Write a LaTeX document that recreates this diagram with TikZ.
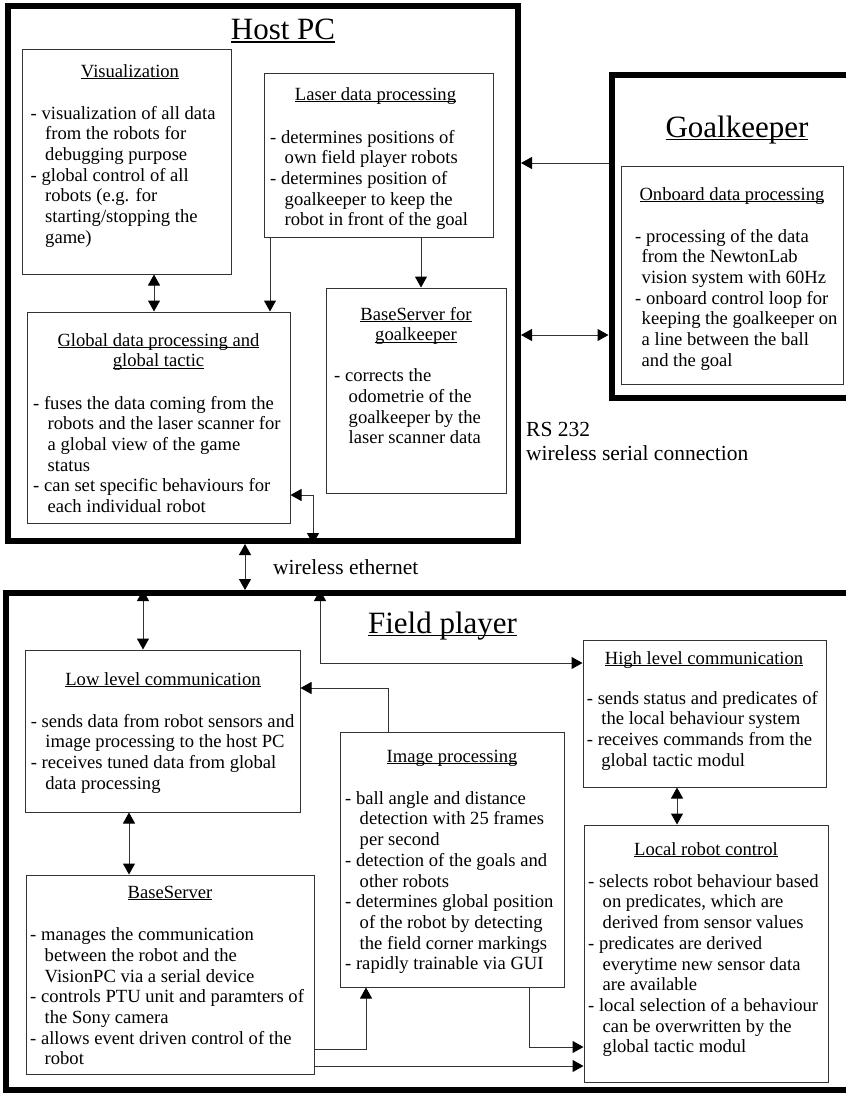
\documentclass[tikz,border=0pt]{standalone}
\usepackage{fontspec}
\setmainfont{Liberation Serif}
\usetikzlibrary{arrows.meta}
\newcommand{\bodysize}{\fontsize{18.6pt}{20.7pt}\selectfont}
\newcommand{\headsize}{\fontsize{31pt}{36pt}\selectfont}
\newcommand{\labelsize}{\fontsize{21.5pt}{24pt}\selectfont}
\newcommand{\ind}{\hspace*{14.5pt}}
\newcommand{\sind}{\hspace*{6.5pt}}
\newcommand{\ulined}[1]{\setbox0\hbox{#1}\rlap{\rule[-0.1em]{\wd0}{0.05em}}\box0}
\begin{document}
\begin{tikzpicture}[
  x=1pt, y=-1pt,
  frame/.style={draw, line width=6pt, inner sep=0pt},
  box/.style={draw=black!80, line width=1pt, inner sep=0pt},
  head/.style={font=\headsize, anchor=base},
  label/.style={font=\labelsize, anchor=base west, inner sep=0pt},
  title/.style={font=\bodysize, anchor=base},
  title2/.style={font=\bodysize, anchor=north, align=center, inner sep=0pt},
  body/.style={font=\bodysize, anchor=north west, align=left, inner sep=0pt},
  arr/.style={draw=black!80, line width=1pt, -{Triangle[length=11pt,width=12pt,color=black]}},
  dbl/.style={draw=black!80, line width=1pt, {Triangle[length=11pt,width=12pt,color=black]}-{Triangle[length=11pt,width=12pt,color=black]}}
]
\useasboundingbox (0,0) rectangle (846,1095);
\clip (0,0) rectangle (846,1095);

% outer frames
\node[frame, minimum width=510.5pt, minimum height=534.7pt] (host) at (262.75,273.65) {};
\node[frame, minimum width=268.5pt, minimum height=323pt] (gk) at (745.75,236.5) {};
\node[frame, minimum width=893.7pt, minimum height=497pt] (field) at (453.15,841.5) {};
\node[head] (hostt) at (283,39.5) {\ulined{Host PC}};
\node[head] (gkt) at (737,137.3) {\ulined{Goalkeeper}};
\node[head] (fieldt) at (442.5,633.3) {\ulined{Field player}};

% host pc
\node[box, minimum width=209pt, minimum height=225pt] (vis) at (126.5,161.5) {};
\node[title] (vist) at (130,77.5) {\ulined{Visualization}};
\node[body] (visb) at (30.5,104.5) {\strut- visualization of all data\\ \ind from the robots for\\ \ind debugging purpose\\ - global control of all\\ \ind robots (e.g. for\\ \ind starting/stopping the\\ \ind game)};

\node[box, minimum width=229pt, minimum height=164pt] (laser) at (378.5,155) {};
\node[title] (lasert) at (375.5,100.5) {\ulined{Laser data processing}};
\node[body] (laserb) at (270,128.5) {\strut- determines positions of\\ \ind own field player robots\\ - determines position of\\ \ind goalkeeper to keep the\\ \ind robot in front of the goal};

\node[box, minimum width=263pt, minimum height=211pt] (glob) at (158.5,417.5) {};
\node[title2] (globt) at (158.5,331.5) {\strut\ulined{Global data processing and}\\ \ulined{global tactic}};
\node[body] (globb) at (33,394.5) {\strut- fuses the data coming from the\\ \ind robots and the laser scanner for\\ \ind a global view of the game\\ \ind status\\ - can set specific behaviours for\\ \ind each individual robot};

\node[box, minimum width=180pt, minimum height=205pt] (bsgk) at (416,390.5) {};
\node[title2] (bsgkt) at (416,305.5) {\strut\ulined{BaseServer for}\\ \ulined{goalkeeper}};
\node[body] (bsgkb) at (334,367) {\strut- corrects the\\ \ind odometrie of the\\ \ind goalkeeper by the\\ \ind laser scanner data};

% goalkeeper
\node[box, minimum width=222pt, minimum height=218pt] (onb) at (732,275) {};
\node[title] (onbt) at (732,200.5) {\ulined{Onboard data processing}};
\node[body] (onbb) at (635,227.5) {\strut- processing of the data\\ \sind from the NewtonLab\\ \sind vision system with 60Hz\\ - onboard control loop for\\ \sind keeping the goalkeeper on\\ \sind a line between the ball\\ \sind and the goal};

\node[label] (rs) at (526,436) {RS 232};
\node[label] (rsw) at (526,460) {wireless serial connection};
\node[label] (wle) at (273,574) {wireless ethernet};

% field player
\node[box, minimum width=275pt, minimum height=162pt] (low) at (162.5,731) {};
\node[title] (lowt) at (163,685.5) {\ulined{Low level communication}};
\node[body] (lowb) at (30.7,712.5) {\strut- sends data from robot sensors and\\ \ind image processing to the host PC\\ - receives tuned data from global\\ \ind data processing};

\node[box, minimum width=243pt, minimum height=147pt] (high) at (704.5,713.5) {};
\node[title] (hight) at (704,664) {\ulined{High level communication}};
\node[body] (highb) at (586.7,689.5) {\strut- sends status and predicates of\\ \ind the local behaviour system\\ - receives commands from the\\ \ind global tactic modul};

\node[box, minimum width=224pt, minimum height=255pt] (img) at (452,859.5) {};
\node[title] (imgt) at (452,762) {\ulined{Image processing}};
\node[body] (imgb) at (345,789.5) {\strut- ball angle and distance\\ \ind detection with 25 frames\\ \ind per second\\ - detection of the goals and\\ \ind other robots\\ - determines global position\\ \ind of the robot by detecting\\ \ind the field corner markings\\ - rapidly trainable via GUI};

\node[box, minimum width=244pt, minimum height=257pt] (local) at (706,953.5) {};
\node[title] (localt) at (706,855.5) {\ulined{Local robot control}};
\node[body] (localb) at (588,872.5) {\strut- selects robot behaviour based\\ \ind on predicates, which are\\ \ind derived from sensor values\\ - predicates are derived\\ \ind everytime new sensor data\\ \ind are available\\ - local selection of a behaviour\\ \ind can be overwritten by the\\ \ind global tactic modul};

\node[box, minimum width=288pt, minimum height=199pt] (base) at (170,974.5) {};
\node[title] (baset) at (170,898.5) {\ulined{BaseServer}};
\node[body] (baseb) at (30,926) {\strut- manages the communication\\ \ind between the robot and the\\ \ind VisionPC via a serial device\\ - controls PTU unit and paramters of\\ \ind the Sony camera\\ - allows event driven control of the\\ \ind robot};

% connectors
\coordinate (xvg) at (154,0);
\coordinate (xlg) at (270,0);
\coordinate (xlb) at (421,0);
\coordinate (ygk1) at (0,163);
\coordinate (ygk2) at (0,335);
\coordinate (cgh) at (313,495);
\coordinate (xwl) at (245,0);
\coordinate (xfl) at (143,0);
\coordinate (cfh) at (320,663);
\coordinate (cil) at (388,688);
\coordinate (xlo) at (129,0);
\coordinate (xhl) at (677,0);
\coordinate (cbi) at (366,1049);
\coordinate (ybl) at (0,1066);
\coordinate (cic) at (529,1047);

\draw[dbl] (vis.south -| xvg) -- (glob.north -| xvg);
\draw[arr] (laser.south -| xlg) -- (glob.north -| xlg);
\draw[arr] (laser.south -| xlb) -- (bsgk.north -| xlb);
\draw[arr] (gk.west |- ygk1) -- (host.east |- ygk1);
\draw[dbl] (host.east |- ygk2) -- (gk.west |- ygk2);
\draw[dbl] (glob.east |- cgh) -- (cgh) -- (host.south -| cgh);
\draw[dbl] (host.south -| xwl) -- (field.north -| xwl);
\draw[dbl] (field.north -| xfl) -- (low.north -| xfl);
\draw[dbl] (field.north -| cfh) -- (cfh) -- (high.west |- cfh);
\draw[arr] (img.north -| cil) -- (cil) -- (low.east |- cil);
\draw[dbl] (low.south -| xlo) -- (base.north -| xlo);
\draw[dbl] (high.south -| xhl) -- (local.north -| xhl);
\draw[arr] (base.east |- cbi) -- (cbi) -- (img.south -| cbi);
\draw[arr] (base.east |- ybl) -- (local.west |- ybl);
\draw[arr] (img.south -| cic) -- (cic) -- (local.west |- cic);
\end{tikzpicture}
\end{document}
